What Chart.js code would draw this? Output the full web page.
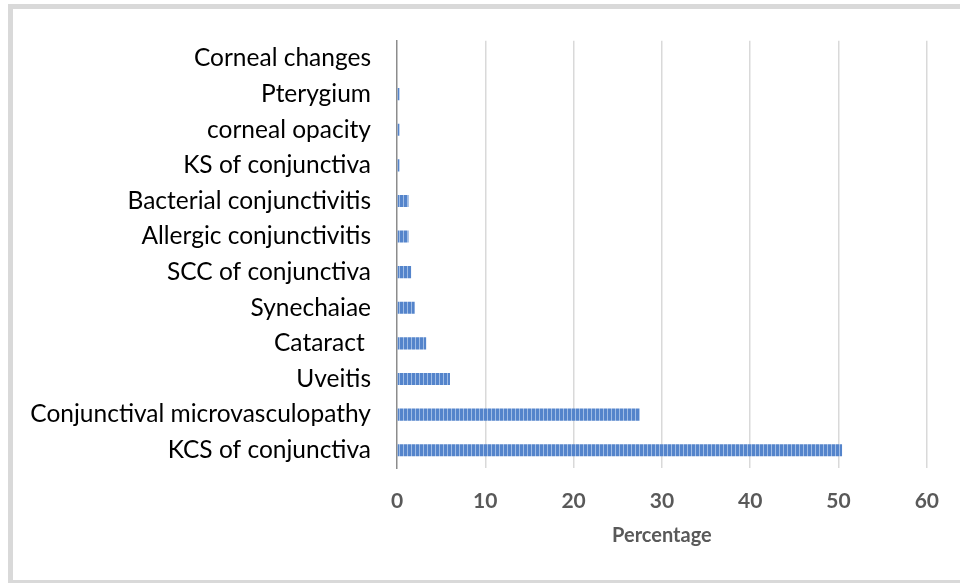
<!DOCTYPE html>
<html>
<head>
<meta charset="utf-8">
<script src="https://cdn.jsdelivr.net/npm/chart.js@4/dist/chart.umd.min.js"></script>
<style>
  html, body { margin: 0; padding: 0; background: #fff; overflow: hidden; }
  #wrap { position: absolute; left: 0; top: 0; width: 960px; height: 583px; }
  #frame { position: absolute; left: 8px; top: 4px; width: 980px; border: 5px solid #d9d9d9; box-sizing: border-box; height: 581px; }
  canvas { position: absolute; left: 0; top: 0; }
</style>
</head>
<body>
<div id="wrap">
  <div id="frame"></div>
  <canvas id="c" width="960" height="583"></canvas>
</div>
<script>
const categories = ["Corneal changes", "Pterygium", "corneal opacity", "KS of conjunctiva", "Bacterial conjunctivitis", "Allergic conjunctivitis", "SCC of conjunctiva", "Synechaiae", "Cataract ", "Uveitis", "Conjunctival microvasculopathy", "KCS of conjunctiva"];
const percentages = [0, 0.3, 0.3, 0.3, 1.3, 1.3, 1.6, 2.0, 3.3, 6.0, 27.5, 50.4];
const axisTitle = "Percentage";

function makePattern(ctx) {
  const p = document.createElement('canvas');
  p.width = 4; p.height = 4;
  const g = p.getContext('2d');
  g.fillStyle = '#5484cb';
  g.fillRect(0, 0, 4, 4);
  g.fillStyle = '#9fbce5';
  g.fillRect(3, 0, 1, 4);
  return ctx.createPattern(p, 'repeat');
}

const canvas = document.getElementById('c');
const ctx = canvas.getContext('2d');

new Chart(ctx, {
  type: 'bar',
  data: {
    labels: categories,
    datasets: [{
      data: percentages,
      backgroundColor: makePattern(ctx),
      borderWidth: 0,
      barPercentage: 0.34,
      categoryPercentage: 1.0
    }]
  },
  options: {
    indexAxis: 'y',
    responsive: false,
    animation: false,
    devicePixelRatio: 1,
    layout: { padding: { left: 0, right: 31, top: 35, bottom: 35 } },
    plugins: { legend: { display: false }, tooltip: { enabled: false } },
    scales: {
      x: {
        min: 0, max: 60,
        ticks: { stepSize: 10, color: '#595959', font: { family: 'Lato', size: 21, weight: 'bold' }, padding: 21 },
        grid: { color: (c) => c.index === 0 ? 'rgba(0,0,0,0)' : '#d9d9d9', lineWidth: 1.5, drawTicks: false },
        border: { display: false },
        title: { display: true, text: axisTitle, color: '#595959', font: { family: 'Lato', size: 20, weight: 'bold' }, padding: { top: 8, bottom: 0 } },
        afterFit: (s) => { s.height = 80; }
      },
      y: {
        ticks: { color: '#000', font: { family: 'Lato', size: 24.5 }, padding: 26 },
        grid: { display: false, drawTicks: false },
        border: { display: true, color: '#8c8c8c', width: 1.5 },
        afterFit: (s) => { s.width = 397; }
      }
    }
  }
});
</script>
</body>
</html>
